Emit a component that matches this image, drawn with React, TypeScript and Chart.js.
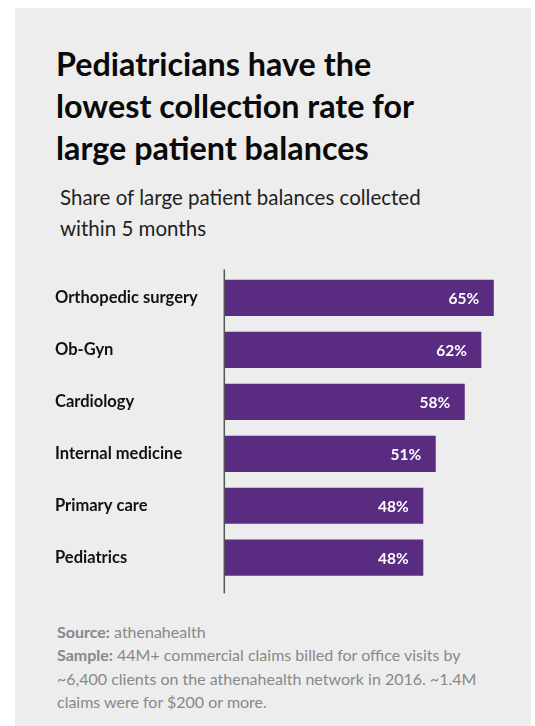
import React, { useEffect, useRef } from "react";
import { Chart, registerables } from "chart.js";

Chart.register(...registerables);

const categories = [
  "Orthopedic surgery",
  "Ob-Gyn",
  "Cardiology",
  "Internal medicine",
  "Primary care",
  "Pediatrics",
];
const values = [65, 62, 58, 51, 48, 48];
const valueLabels = values.map((v) => `${v}%`);

const FONT = "Lato, 'Noto Sans', sans-serif";
const PURPLE = "#592c82";

const axisLinePlugin = {
  id: "axisLine",
  afterDraw(chart: any) {
    const { ctx, chartArea } = chart;
    ctx.save();
    ctx.strokeStyle = "#555555";
    ctx.lineWidth = 1.5;
    ctx.beginPath();
    ctx.moveTo(chartArea.left, chartArea.top - 2.5);
    ctx.lineTo(chartArea.left, chartArea.bottom + 9.5);
    ctx.stroke();
    ctx.restore();
  },
};

const valueLabelPlugin = {
  id: "valueLabels",
  afterDatasetsDraw(chart: any) {
    const { ctx } = chart;
    const meta = chart.getDatasetMeta(0);
    ctx.save();
    ctx.fillStyle = "#ffffff";
    ctx.font = `bold 15.5px ${FONT}`;
    ctx.textAlign = "right";
    ctx.textBaseline = "middle";
    meta.data.forEach((bar: any, i: number) => {
      ctx.fillText(valueLabels[i], bar.x - 14.5, bar.y + 1);
    });
    ctx.restore();
  },
};

export default function App() {
  const canvasRef = useRef<HTMLCanvasElement>(null);

  useEffect(() => {
    if (!canvasRef.current) return;
    const chart = new Chart(canvasRef.current, {
      type: "bar",
      data: {
        labels: categories,
        datasets: [
          {
            data: values,
            backgroundColor: PURPLE,
            borderWidth: 0,
            barPercentage: 0.697,
            categoryPercentage: 1,
          },
        ],
      },
      options: {
        indexAxis: "y",
        animation: false,
        responsive: false,
        maintainAspectRatio: false,
        layout: { padding: { left: 40, right: 16.5, top: 7.3, bottom: 18.3 } },
        plugins: {
          legend: { display: false },
          tooltip: { enabled: false },
        },
        scales: {
          x: {
            display: false,
            min: 0,
            max: 70,
          },
          y: {
            grid: { display: false, drawTicks: false },
            border: { display: false },
            afterFit: (scale: any) => {
              scale.width = 169.3;
            },
            ticks: {
              crossAlign: "far",
              color: "#111111",
              padding: 0,
              font: { family: FONT, size: 16.5, weight: "bold" },
            },
          },
        },
      },
      plugins: [axisLinePlugin, valueLabelPlugin],
    });
    return () => chart.destroy();
  }, []);

  return (
    <div
      style={{
        position: "absolute",
        left: 0,
        top: 0,
        width: 535,
        height: 726,
        background: "#ffffff",
        overflow: "hidden",
        fontFamily: FONT,
      }}
    >
      <div
        style={{
          position: "absolute",
          left: 15,
          top: 8,
          width: 516,
          height: 718,
          background: "#ededed",
        }}
      />
      <div
        style={{
          position: "absolute",
          left: 56,
          top: 43,
          width: 470,
          fontSize: 32.3,
          lineHeight: "42px",
          fontWeight: 700,
          color: "#0a0a0a",
          whiteSpace: "nowrap",
        }}
      >
        Pediatricians have the
        <br />
        lowest collection rate for
        <br />
        large patient balances
      </div>
      <div
        style={{
          position: "absolute",
          left: 60,
          top: 182,
          width: 470,
          fontSize: 20.5,
          lineHeight: "31px",
          fontWeight: 400,
          color: "#222222",
          whiteSpace: "nowrap",
        }}
      >
        Share of large patient balances collected
        <br />
        within 5 months
      </div>
      <canvas
        ref={canvasRef}
        width={516}
        height={340}
        style={{ position: "absolute", left: 15, top: 262, width: 516, height: 340 }}
      />
      <div
        style={{
          position: "absolute",
          left: 57,
          top: 620,
          width: 470,
          fontSize: 16,
          lineHeight: "23.3px",
          color: "#888888",
          whiteSpace: "nowrap",
        }}
      >
        <b>Source:</b> athenahealth
        <br />
        <b>Sample:</b> 44M+ commercial claims billed for office visits by
        <br />
        ~6,400 clients on the athenahealth network in 2016. ~1.4M
        <br />
        claims were for $200 or more.
      </div>
    </div>
  );
}
